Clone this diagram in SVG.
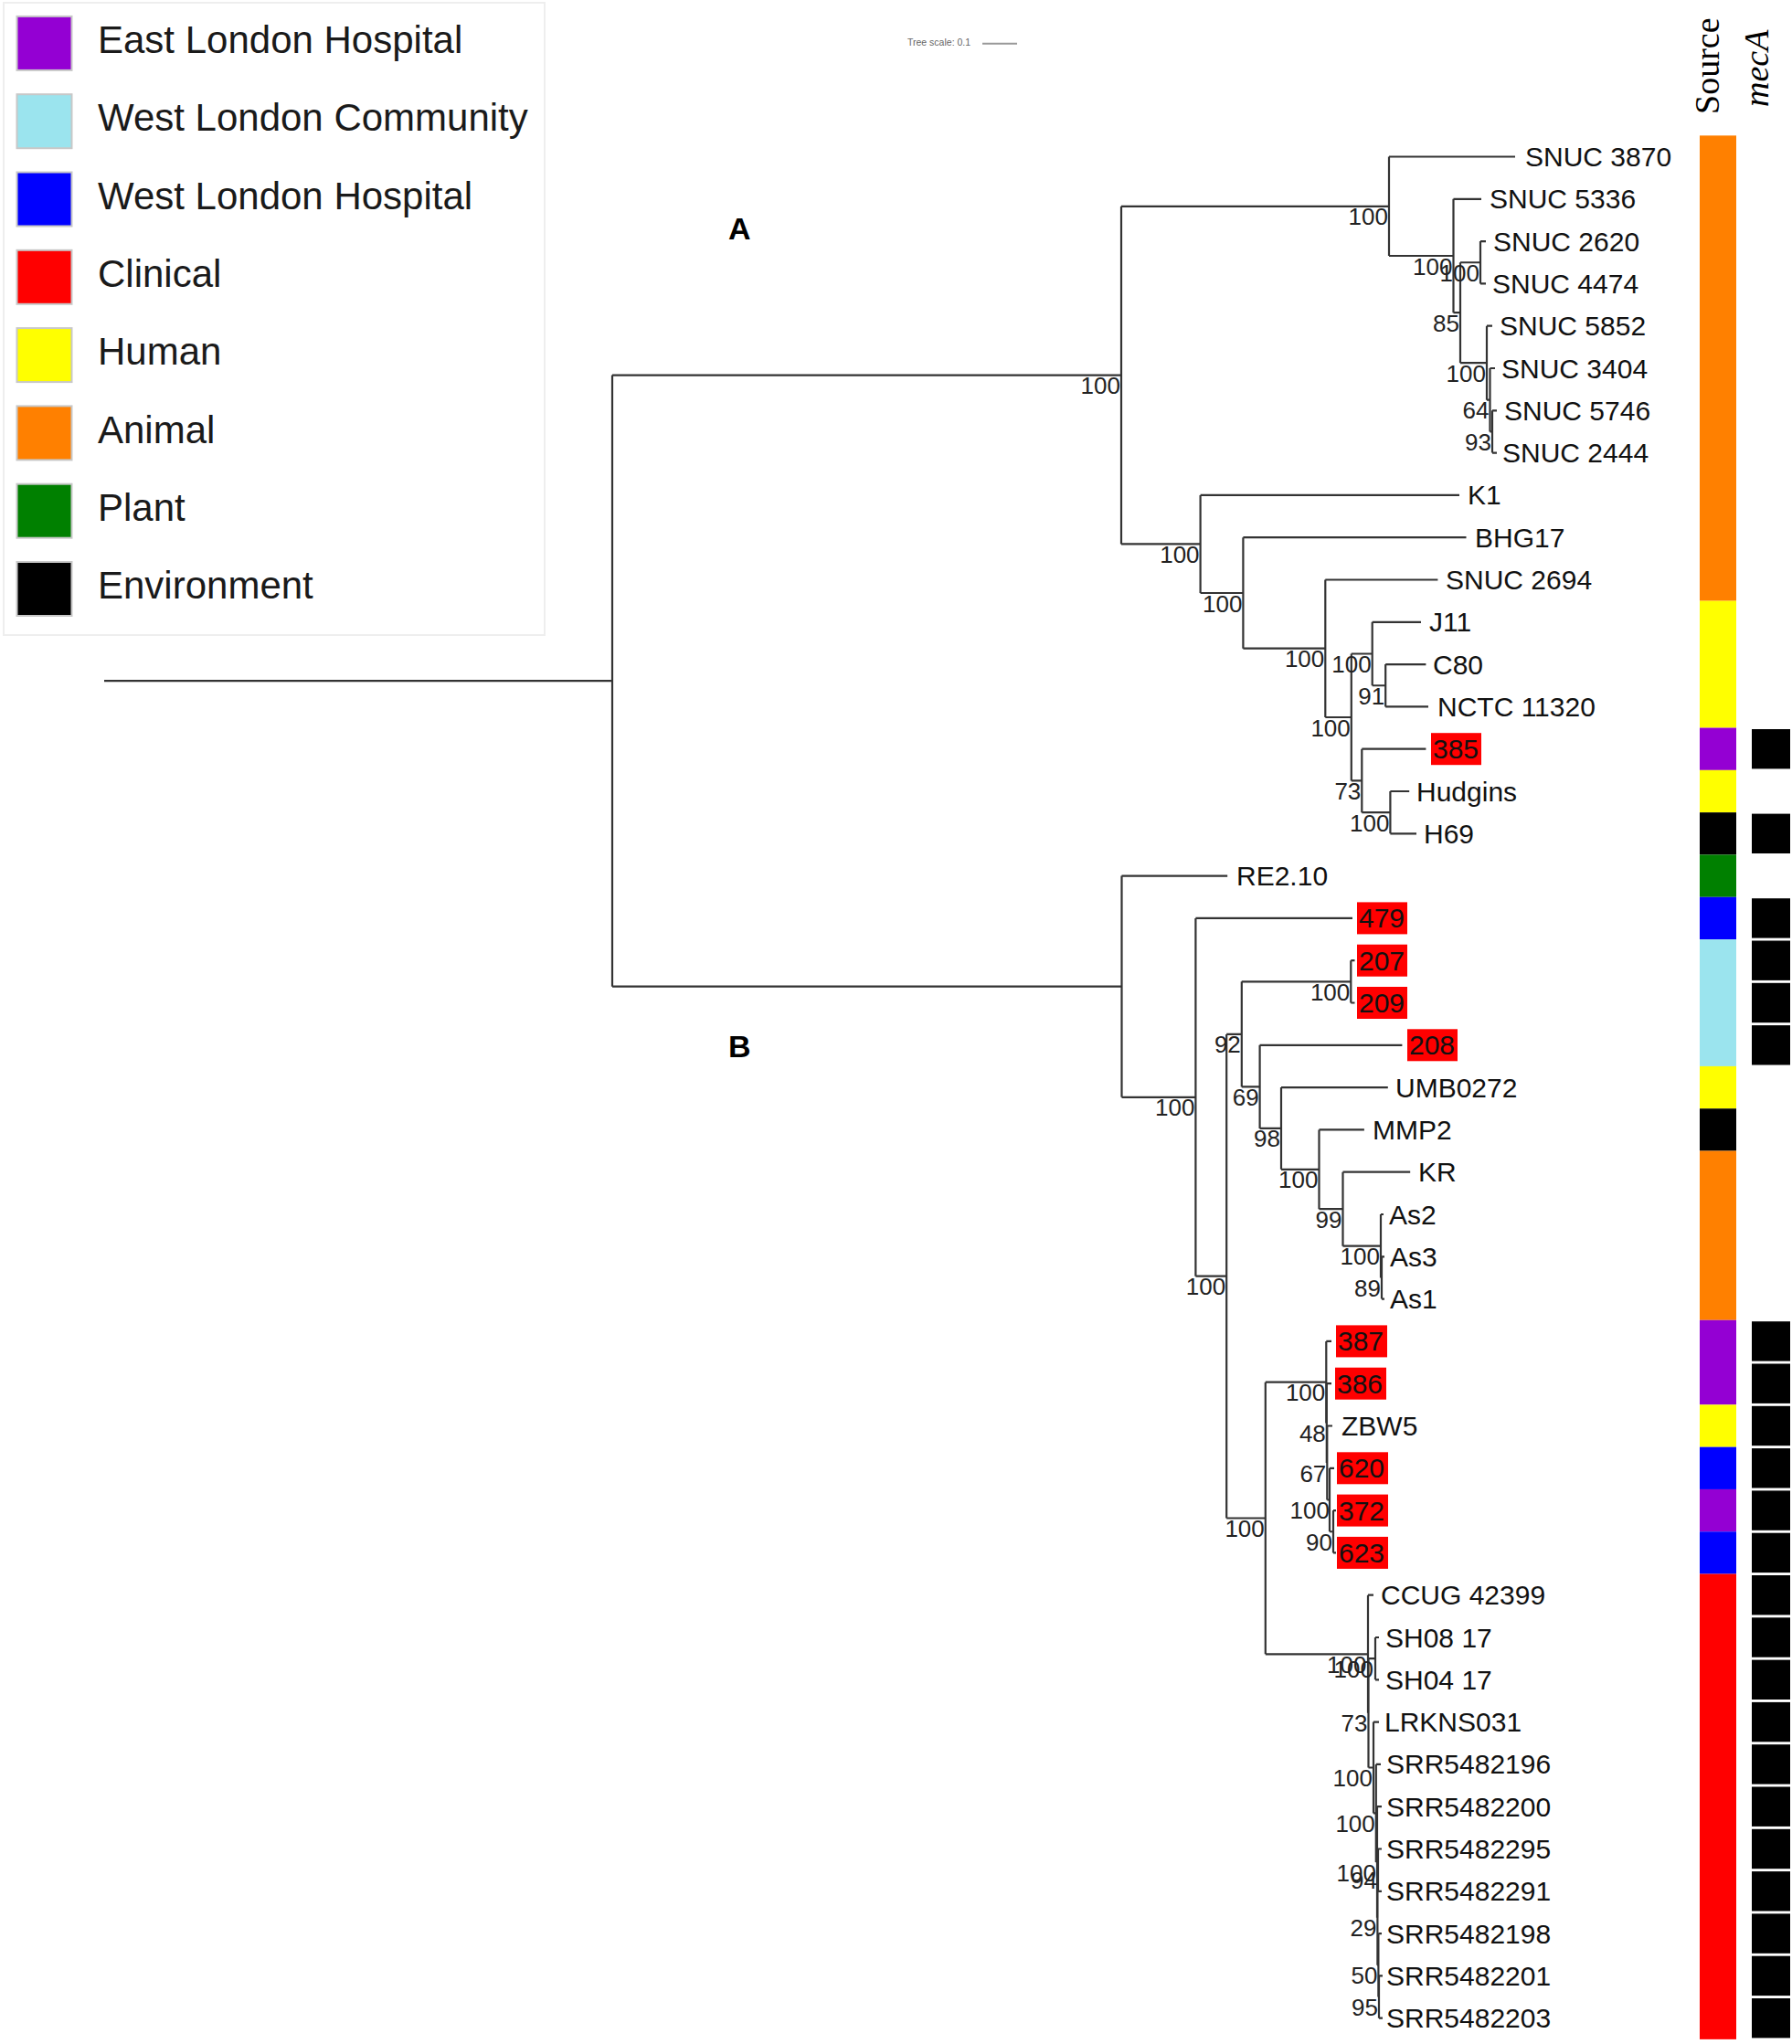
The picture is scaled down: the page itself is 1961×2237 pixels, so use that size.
<svg xmlns="http://www.w3.org/2000/svg" width="1961" height="2237" viewBox="0 0 1961 2237">
<style>
.lg{font-family:"Liberation Sans",Arial,sans-serif;font-size:42px;fill:#1a1a1a}
.sq{stroke:#c8c8c8;stroke-width:2}
.lf{font-family:"Liberation Sans",Arial,sans-serif;font-size:30px;fill:#111}
.bs{font-family:"Liberation Sans",Arial,sans-serif;font-size:26px;fill:#222;text-anchor:end}
.bx{fill:#ff0000}
.cl{font-family:"Liberation Sans",Arial,sans-serif;font-size:34px;font-weight:bold;fill:#000}
.hd{font-family:"Liberation Serif","Times New Roman",serif;font-size:38px;fill:#000}
.mc{fill:#000}
.br{fill:none;stroke:#333;stroke-width:2.2}
</style>
<rect width="1961" height="2237" fill="#fff"/>
<g id="legend">
<rect x="4" y="3" width="592" height="692" fill="#fff" stroke="#eeeeee" stroke-width="2"/>
<g id="lg-elh"><rect class="sq" x="18.5" y="17.9" width="60" height="59" fill="#9400D3"/><text class="lg" x="107" y="58">East London Hospital</text></g>
<g id="lg-wlc"><rect class="sq" x="18.5" y="103.2" width="60" height="59" fill="#9be4ee"/><text class="lg" x="107" y="143.3">West London Community</text></g>
<g id="lg-wlh"><rect class="sq" x="18.5" y="188.5" width="60" height="59" fill="#0000ff"/><text class="lg" x="107" y="228.6">West London Hospital</text></g>
<g id="lg-cli"><rect class="sq" x="18.5" y="273.8" width="60" height="59" fill="#ff0000"/><text class="lg" x="107" y="313.9">Clinical</text></g>
<g id="lg-hum"><rect class="sq" x="18.5" y="359.1" width="60" height="59" fill="#ffff00"/><text class="lg" x="107" y="399.2">Human</text></g>
<g id="lg-ani"><rect class="sq" x="18.5" y="444.4" width="60" height="59" fill="#ff8000"/><text class="lg" x="107" y="484.5">Animal</text></g>
<g id="lg-pla"><rect class="sq" x="18.5" y="529.7" width="60" height="59" fill="#008000"/><text class="lg" x="107" y="569.8">Plant</text></g>
<g id="lg-env"><rect class="sq" x="18.5" y="615" width="60" height="59" fill="#000000"/><text class="lg" x="107" y="655.1">Environment</text></g>
</g>
<g id="scale">
<text x="993" y="50" font-family="Liberation Sans,Arial,sans-serif" font-size="10.5" fill="#666">Tree scale: 0.1</text>
<line x1="1075" y1="47.7" x2="1113" y2="47.7" stroke="#999" stroke-width="2"/>
</g>
<g id="headers">
<text class="hd" transform="translate(1881,125) rotate(-90)">Source</text>
<text class="hd" font-style="italic" transform="translate(1935,117) rotate(-90)">mecA</text>
</g>
<g id="clade-labels">
<text class="cl" x="797" y="262">A</text>
<text class="cl" x="797" y="1157">B</text>
</g>
<g id="connectors" class="br">
<path d="M114 745.1H670M670 410.6V1079.7M670 410.6H1227M670 1079.7H1227.5"/>
<path d="M1227 225.8V595.4M1227 225.8H1520M1227 595.4H1313.6"/>
<path d="M1520 171.5V280M1520 171.5H1658M1520 280H1590.5"/>
<path d="M1590.5 217.8V342.2M1590.5 217.8H1621M1590.5 342.2H1598"/>
<path d="M1598 287.25V397.2M1598 287.25H1620M1598 397.2H1627"/>
<path d="M1620 264.1V310.4M1620 264.1H1626M1620 310.4H1626"/>
<path d="M1627 356.7V437.7M1627 356.7H1633M1627 437.7H1630.5"/>
<path d="M1630.5 403V472.45M1630.5 403H1636M1630.5 472.45H1633"/>
<path d="M1633 449.3V495.6M1633 449.3H1638M1633 495.6H1638"/>
<path d="M1313.6 541.9V649M1313.6 541.9H1597M1313.6 649H1360.4"/>
<path d="M1360.4 588.2V709.7M1360.4 588.2H1604.5M1360.4 709.7H1450.3"/>
<path d="M1450.3 634.5V785M1450.3 634.5H1573.4M1450.3 785H1478.8"/>
<path d="M1478.8 715.5V854.4M1478.8 715.5H1501.7M1478.8 854.4H1490.3"/>
<path d="M1501.7 680.8V750.25M1501.7 680.8H1555M1501.7 750.25H1516.2"/>
<path d="M1516.2 727.1V773.4M1516.2 727.1H1560.4M1516.2 773.4H1563"/>
<path d="M1490.3 819.7V889.15M1490.3 819.7H1560.4M1490.3 889.15H1521.4"/>
<path d="M1521.4 866V912.3M1521.4 866H1542.2M1521.4 912.3H1550"/>
<path d="M1227.5 958.6V1200.8M1227.5 958.6H1343.2M1227.5 1200.8H1308.4"/>
<path d="M1308.4 1004.9V1396.7M1308.4 1004.9H1480M1308.4 1396.7H1342.2"/>
<path d="M1342.2 1131.9V1661.5M1342.2 1131.9H1358.8M1342.2 1661.5H1384.8"/>
<path d="M1358.8 1074.35V1189.4M1358.8 1074.35H1478.3M1358.8 1189.4H1378.6"/>
<path d="M1478.3 1051.2V1097.5M1478.3 1051.2H1482.5M1478.3 1097.5H1482.5"/>
<path d="M1378.6 1143.8V1234.9M1378.6 1143.8H1534.4M1378.6 1234.9H1402"/>
<path d="M1402 1190.1V1279.8M1402 1190.1H1518.8M1402 1279.8H1443.5"/>
<path d="M1443.5 1236.4V1323.2M1443.5 1236.4H1492.9M1443.5 1323.2H1469.5"/>
<path d="M1469.5 1282.7V1363.7M1469.5 1282.7H1543.2M1469.5 1363.7H1511"/>
<path d="M1511 1329V1398.45M1511 1329H1514M1511 1398.45H1512"/>
<path d="M1512 1375.3V1421.6M1512 1375.3H1515M1512 1421.6H1515"/>
<path d="M1384.8 1512.7V1810.3M1384.8 1512.7H1451.3M1384.8 1810.3H1497"/>
<path d="M1451.3 1467.9V1557.6M1451.3 1467.9H1457M1451.3 1557.6H1451.8"/>
<path d="M1451.8 1514.2V1601M1451.8 1514.2H1457M1451.8 1601H1452.3"/>
<path d="M1452.3 1560.5V1641.5M1452.3 1560.5H1458M1452.3 1641.5H1455"/>
<path d="M1455 1606.8V1676.25M1455 1606.8H1460M1455 1676.25H1459"/>
<path d="M1459 1653.1V1699.4M1459 1653.1H1462M1459 1699.4H1462"/>
<path d="M1497 1745.7V1874.8M1497 1745.7H1503M1497 1874.8H1497.5"/>
<path d="M1497.5 1815.15V1934.5M1497.5 1815.15H1505M1497.5 1934.5H1503"/>
<path d="M1505 1792V1838.3M1505 1792H1509M1505 1838.3H1509"/>
<path d="M1503 1884.6V1984.4M1503 1884.6H1509M1503 1984.4H1505.8"/>
<path d="M1505.8 1930.9V2038M1505.8 1930.9H1511M1505.8 2038H1507"/>
<path d="M1507 1977.2V2098.7M1507 1977.2H1512M1507 2098.7H1507.4"/>
<path d="M1507.4 2046.65V2150.8M1507.4 2046.65H1508M1507.4 2150.8H1508.4"/>
<path d="M1508 2023.5V2069.8M1508 2023.5H1512M1508 2069.8H1512"/>
<path d="M1508.4 2116.1V2185.55M1508.4 2116.1H1512M1508.4 2185.55H1509"/>
<path d="M1509 2162.4V2208.7M1509 2162.4H1513M1509 2208.7H1513"/>
</g>
<g id="support">
<text class="bs" x="1226" y="431.1">100</text>
<text class="bs" x="1519" y="246.3">100</text>
<text class="bs" x="1589.5" y="300.5">100</text>
<text class="bs" x="1619" y="307.75">100</text>
<text class="bs" x="1597" y="362.7">85</text>
<text class="bs" x="1626" y="417.7">100</text>
<text class="bs" x="1629.5" y="458.2">64</text>
<text class="bs" x="1632" y="492.95">93</text>
<text class="bs" x="1312.6" y="615.9">100</text>
<text class="bs" x="1359.4" y="669.5">100</text>
<text class="bs" x="1449.3" y="730.2">100</text>
<text class="bs" x="1500.7" y="736">100</text>
<text class="bs" x="1515.2" y="770.75">91</text>
<text class="bs" x="1477.8" y="805.5">100</text>
<text class="bs" x="1489.3" y="874.9">73</text>
<text class="bs" x="1520.4" y="909.65">100</text>
<text class="bs" x="1307.4" y="1221.3">100</text>
<text class="bs" x="1357.8" y="1152.4">92</text>
<text class="bs" x="1477.3" y="1094.85">100</text>
<text class="bs" x="1377.6" y="1209.9">69</text>
<text class="bs" x="1401" y="1255.4">98</text>
<text class="bs" x="1442.5" y="1300.3">100</text>
<text class="bs" x="1468.5" y="1343.7">99</text>
<text class="bs" x="1510" y="1384.2">100</text>
<text class="bs" x="1511" y="1418.95">89</text>
<text class="bs" x="1341.2" y="1417.2">100</text>
<text class="bs" x="1383.8" y="1682">100</text>
<text class="bs" x="1450.3" y="1533.2">100</text>
<text class="bs" x="1450.8" y="1578.1">48</text>
<text class="bs" x="1451.3" y="1621.5">67</text>
<text class="bs" x="1455" y="1662">100</text>
<text class="bs" x="1458" y="1696.75">90</text>
<text class="bs" x="1495.5" y="1830.8">100</text>
<text class="bs" x="1503" y="1835.65">100</text>
<text class="bs" x="1496.5" y="1895.3">73</text>
<text class="bs" x="1502" y="1955">100</text>
<text class="bs" x="1504.8" y="2004.9">100</text>
<text class="bs" x="1506" y="2058.5">100</text>
<text class="bs" x="1507" y="2067.15">94</text>
<text class="bs" x="1506.4" y="2119.2">29</text>
<text class="bs" x="1507.4" y="2171.3">50</text>
<text class="bs" x="1508" y="2206.05">95</text>
</g>
<g id="leaves">
<g id="leaf-snuc3870"><text class="lf" x="1669" y="182">SNUC 3870</text></g>
<g id="leaf-snuc5336"><text class="lf" x="1630" y="228.3">SNUC 5336</text></g>
<g id="leaf-snuc2620"><text class="lf" x="1634" y="274.6">SNUC 2620</text></g>
<g id="leaf-snuc4474"><text class="lf" x="1633" y="320.9">SNUC 4474</text></g>
<g id="leaf-snuc5852"><text class="lf" x="1641" y="367.2">SNUC 5852</text></g>
<g id="leaf-snuc3404"><text class="lf" x="1643" y="413.5">SNUC 3404</text></g>
<g id="leaf-snuc5746"><text class="lf" x="1646" y="459.8">SNUC 5746</text></g>
<g id="leaf-snuc2444"><text class="lf" x="1644" y="506.1">SNUC 2444</text></g>
<g id="leaf-k1"><text class="lf" x="1606" y="552.4">K1</text></g>
<g id="leaf-bhg17"><text class="lf" x="1614" y="598.7">BHG17</text></g>
<g id="leaf-snuc2694"><text class="lf" x="1582" y="645">SNUC 2694</text></g>
<g id="leaf-j11"><text class="lf" x="1564" y="691.3">J11</text></g>
<g id="leaf-c80"><text class="lf" x="1568" y="737.6">C80</text></g>
<g id="leaf-nctc11320"><text class="lf" x="1573" y="783.9">NCTC 11320</text></g>
<g id="leaf-385"><rect class="bx" x="1566" y="802.2" width="55" height="35"/><text class="lf" x="1568" y="830.2">385</text></g>
<g id="leaf-hudgins"><text class="lf" x="1550" y="876.5">Hudgins</text></g>
<g id="leaf-h69"><text class="lf" x="1558" y="922.8">H69</text></g>
<g id="leaf-re210"><text class="lf" x="1353" y="969.1">RE2.10</text></g>
<g id="leaf-479"><rect class="bx" x="1485" y="987.4" width="55" height="35"/><text class="lf" x="1487" y="1015.4">479</text></g>
<g id="leaf-207"><rect class="bx" x="1485" y="1033.7" width="55" height="35"/><text class="lf" x="1487" y="1061.7">207</text></g>
<g id="leaf-209"><rect class="bx" x="1485" y="1080" width="55" height="35"/><text class="lf" x="1487" y="1108">209</text></g>
<g id="leaf-208"><rect class="bx" x="1540" y="1126.3" width="55" height="35"/><text class="lf" x="1542" y="1154.3">208</text></g>
<g id="leaf-umb0272"><text class="lf" x="1527" y="1200.6">UMB0272</text></g>
<g id="leaf-mmp2"><text class="lf" x="1502" y="1246.9">MMP2</text></g>
<g id="leaf-kr"><text class="lf" x="1552" y="1293.2">KR</text></g>
<g id="leaf-as2"><text class="lf" x="1520" y="1339.5">As2</text></g>
<g id="leaf-as3"><text class="lf" x="1521" y="1385.8">As3</text></g>
<g id="leaf-as1"><text class="lf" x="1521" y="1432.1">As1</text></g>
<g id="leaf-387"><rect class="bx" x="1462" y="1450.4" width="56" height="35"/><text class="lf" x="1464" y="1478.4">387</text></g>
<g id="leaf-386"><rect class="bx" x="1461" y="1496.7" width="56" height="35"/><text class="lf" x="1463" y="1524.7">386</text></g>
<g id="leaf-zbw5"><text class="lf" x="1468" y="1571">ZBW5</text></g>
<g id="leaf-620"><rect class="bx" x="1463" y="1589.3" width="56" height="35"/><text class="lf" x="1465" y="1617.3">620</text></g>
<g id="leaf-372"><rect class="bx" x="1463" y="1635.6" width="56" height="35"/><text class="lf" x="1465" y="1663.6">372</text></g>
<g id="leaf-623"><rect class="bx" x="1463" y="1681.9" width="56" height="35"/><text class="lf" x="1465" y="1709.9">623</text></g>
<g id="leaf-ccug42399"><text class="lf" x="1511" y="1756.2">CCUG 42399</text></g>
<g id="leaf-sh0817"><text class="lf" x="1516" y="1802.5">SH08 17</text></g>
<g id="leaf-sh0417"><text class="lf" x="1516" y="1848.8">SH04 17</text></g>
<g id="leaf-lrkns031"><text class="lf" x="1515" y="1895.1">LRKNS031</text></g>
<g id="leaf-srr5482196"><text class="lf" x="1517" y="1941.4">SRR5482196</text></g>
<g id="leaf-srr5482200"><text class="lf" x="1517" y="1987.7">SRR5482200</text></g>
<g id="leaf-srr5482295"><text class="lf" x="1517" y="2034">SRR5482295</text></g>
<g id="leaf-srr5482291"><text class="lf" x="1517" y="2080.3">SRR5482291</text></g>
<g id="leaf-srr5482198"><text class="lf" x="1517" y="2126.6">SRR5482198</text></g>
<g id="leaf-srr5482201"><text class="lf" x="1517" y="2172.9">SRR5482201</text></g>
<g id="leaf-srr5482203"><text class="lf" x="1517" y="2219.2">SRR5482203</text></g>
</g>
<g id="source-strip">
<rect x="1860" y="148.35" width="40" height="509.3" fill="#ff8000"/>
<rect x="1860" y="657.65" width="40" height="138.9" fill="#ffff00"/>
<rect x="1860" y="796.55" width="40" height="46.3" fill="#9400D3"/>
<rect x="1860" y="842.85" width="40" height="46.3" fill="#ffff00"/>
<rect x="1860" y="889.15" width="40" height="46.3" fill="#000"/>
<rect x="1860" y="935.45" width="40" height="46.3" fill="#008000"/>
<rect x="1860" y="981.75" width="40" height="46.3" fill="#0000ff"/>
<rect x="1860" y="1028.05" width="40" height="138.9" fill="#9be4ee"/>
<rect x="1860" y="1166.95" width="40" height="46.3" fill="#ffff00"/>
<rect x="1860" y="1213.25" width="40" height="46.3" fill="#000"/>
<rect x="1860" y="1259.55" width="40" height="185.2" fill="#ff8000"/>
<rect x="1860" y="1444.75" width="40" height="92.6" fill="#9400D3"/>
<rect x="1860" y="1537.35" width="40" height="46.3" fill="#ffff00"/>
<rect x="1860" y="1583.65" width="40" height="46.3" fill="#0000ff"/>
<rect x="1860" y="1629.95" width="40" height="46.3" fill="#9400D3"/>
<rect x="1860" y="1676.25" width="40" height="46.3" fill="#0000ff"/>
<rect x="1860" y="1722.55" width="40" height="509.3" fill="#ff0000"/>
</g>
<g id="meca-strip" class="mc">
<rect x="1917" y="798" width="42" height="43.4"/>
<rect x="1917" y="890.6" width="42" height="43.4"/>
<rect x="1917" y="983.2" width="42" height="43.4"/>
<rect x="1917" y="1029.5" width="42" height="43.4"/>
<rect x="1917" y="1075.8" width="42" height="43.4"/>
<rect x="1917" y="1122.1" width="42" height="43.4"/>
<rect x="1917" y="1446.2" width="42" height="43.4"/>
<rect x="1917" y="1492.5" width="42" height="43.4"/>
<rect x="1917" y="1538.8" width="42" height="43.4"/>
<rect x="1917" y="1585.1" width="42" height="43.4"/>
<rect x="1917" y="1631.4" width="42" height="43.4"/>
<rect x="1917" y="1677.7" width="42" height="43.4"/>
<rect x="1917" y="1724" width="42" height="43.4"/>
<rect x="1917" y="1770.3" width="42" height="43.4"/>
<rect x="1917" y="1816.6" width="42" height="43.4"/>
<rect x="1917" y="1862.9" width="42" height="43.4"/>
<rect x="1917" y="1909.2" width="42" height="43.4"/>
<rect x="1917" y="1955.5" width="42" height="43.4"/>
<rect x="1917" y="2001.8" width="42" height="43.4"/>
<rect x="1917" y="2048.1" width="42" height="43.4"/>
<rect x="1917" y="2094.4" width="42" height="43.4"/>
<rect x="1917" y="2140.7" width="42" height="43.4"/>
<rect x="1917" y="2187" width="42" height="43.4"/>
</g>
</svg>
